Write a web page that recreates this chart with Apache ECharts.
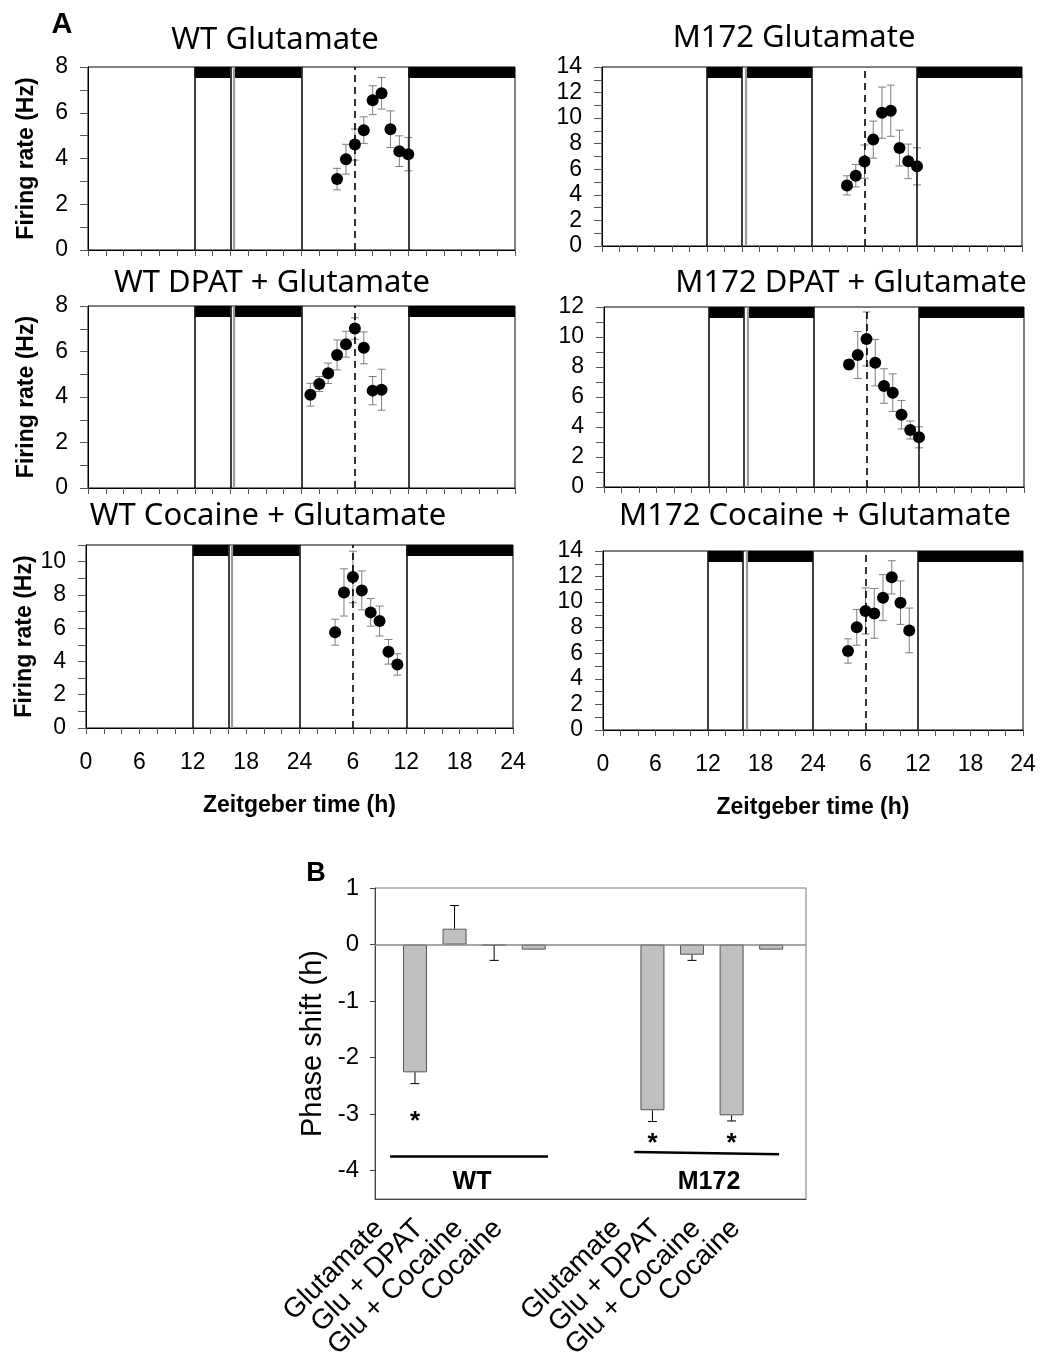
<!DOCTYPE html>
<html>
<head>
<meta charset="utf-8">
<title>Firing rate and phase shift</title>
<script src="https://cdn.jsdelivr.net/npm/echarts@6/dist/echarts.min.js"></script>
<style>
  html, body { margin: 0; padding: 0; background: #fff; }
  #chart { width: 1047px; height: 1353px; }
</style>
</head>
<body>
<div id="chart"></div>
<script>
// ---------- A: firing rate, ZT on a 48 h double plot (mean, SEM) ----------
const wtGluX = [28, 29, 30, 31, 32, 33, 34, 35, 36];
const wtGluY = [3.10, 3.97, 4.61, 5.24, 6.55, 6.85, 5.28, 4.32, 4.19];
const wtGluErr = [0.47, 0.65, 0.68, 0.58, 0.63, 0.69, 0.80, 0.67, 0.73];

const m172GluX = [28, 29, 30, 31, 32, 33, 34, 35, 36];
const m172GluY = [4.74, 5.50, 6.60, 8.32, 10.43, 10.58, 7.66, 6.62, 6.23];
const m172GluErr = [0.75, 0.88, 1.30, 1.45, 2.00, 2.00, 1.40, 1.35, 1.45];

const wtDpatX = [25, 26, 27, 28, 29, 30, 31, 32, 33];
const wtDpatY = [4.10, 4.57, 5.04, 5.85, 6.32, 7.01, 6.16, 4.28, 4.32];
const wtDpatErr = [0.50, 0.33, 0.45, 0.66, 0.57, 0.47, 0.70, 0.62, 0.90];

const m172DpatX = [28, 29, 30, 31, 32, 33, 34, 35, 36];
const m172DpatY = [8.16, 8.80, 9.87, 8.29, 6.73, 6.29, 4.82, 3.80, 3.31];
const m172DpatErr = [0.30, 1.57, 1.80, 1.55, 1.15, 1.25, 0.95, 0.60, 0.70];

const wtCocX = [28, 29, 30, 31, 32, 33, 34, 35];
const wtCocY = [5.76, 8.15, 9.08, 8.27, 6.95, 6.43, 4.58, 3.82];
const wtCocErr = [0.78, 1.42, 1.55, 1.17, 0.83, 0.90, 0.74, 0.64];

const m172CocX = [28, 29, 30, 31, 32, 33, 34, 35];
const m172CocY = [6.18, 8.03, 9.31, 9.12, 10.35, 11.94, 9.96, 7.79];
const m172CocErr = [0.95, 1.40, 1.80, 1.95, 1.80, 1.30, 1.70, 1.75];

const panelTitles = ['WT Glutamate', 'M172 Glutamate', 'WT DPAT + Glutamate',
  'M172 DPAT + Glutamate', 'WT Cocaine + Glutamate', 'M172 Cocaine + Glutamate'];
const panelYMax = [8, 14, 8, 12, 11, 14];

// dark phases (black bar on top) and boundary lines, in ZT hours
const darkBars = [[12, 16], [16.4, 24], [36, 48]];
const solidLines = [12, 16, 24, 36];
const grayLine = 16.4;
const dashedLine = 30;

const xTickValues = [0, 2, 4, 6, 8, 10, 12, 14, 16, 18, 20, 22, 24, 26, 28, 30, 32, 34, 36, 38, 40, 42, 44, 46, 48];
const xLabelValues = [0, 6, 12, 18, 24, 30, 36, 42, 48];

// ---------- B: phase shift (h) ----------
const treatments = ['Glutamate', 'Glu + DPAT', 'Glu + Cocaine', 'Cocaine'];
const wtSlots = [0, 1, 2, 3];
const m172Slots = [6, 7, 8, 9];
const wtShift = [-2.26, 0.28, -0.02, -0.09];
const wtShiftErr = [0.20, 0.41, 0.26, 0];
const m172Shift = [-2.93, -0.18, -3.02, -0.09];
const m172ShiftErr = [0.20, 0.10, 0.10, 0];
const phaseTicks = [-4, -3, -2, -1, 0, 1];

const ARIAL = '"Liberation Sans", Arial, sans-serif';
const TITLE_FONT = '"Noto Sans", "Open Sans", sans-serif';

const chart = echarts.init(document.getElementById('chart'));

const grids = [
  { left: 88, top: 67, width: 427, height: 183 },
  { left: 602, top: 67, width: 420, height: 179 },
  { left: 88, top: 306, width: 427, height: 182 },
  { left: 604, top: 307, width: 420, height: 180 },
  { left: 86, top: 545, width: 427, height: 183 },
  { left: 603, top: 551, width: 420, height: 179 },
  { left: 375, top: 888, width: 431, height: 311 }
].map((g, i) => Object.assign({
  show: true,
  outerBoundsMode: 'none',
  containLabel: false,
  borderColor: i < 6 ? '#000' : '#777',
  borderWidth: 1,
  backgroundColor: 'transparent'
}, g));

const panelData = [
  [wtGluX, wtGluY, wtGluErr],
  [m172GluX, m172GluY, m172GluErr],
  [wtDpatX, wtDpatY, wtDpatErr],
  [m172DpatX, m172DpatY, m172DpatErr],
  [wtCocX, wtCocY, wtCocErr],
  [m172CocX, m172CocY, m172CocErr]
];

const xAxes = [];
const yAxes = [];
const series = [];

panelData.forEach((d, i) => {
  const bottom = i >= 4;
  const left = i % 2 === 0;
  const yMax = panelYMax[i];
  const yTicks = [];
  const yLabels = [];
  for (let v = 0; v <= yMax; v++) {
    yTicks.push(v);
    if (v % 2 === 0) yLabels.push(v);
  }
  xAxes.push({
    type: 'value', gridIndex: i, min: 0, max: 48,
    axisLine: { onZero: false, lineStyle: { color: '#000', width: 1 } },
    axisTick: { customValues: xTickValues, length: 6, lineStyle: { color: '#555' } },
    axisLabel: {
      show: bottom, customValues: xLabelValues, margin: 23,
      formatter: v => (v > 24 ? v - 24 : v),
      color: '#000', fontSize: 23, fontFamily: ARIAL
    },
    splitLine: { show: false },
    name: bottom ? 'Zeitgeber time (h)' : '',
    nameLocation: 'middle', nameGap: 66,
    nameTextStyle: { color: '#000', fontSize: 23, fontWeight: 'bold', fontFamily: ARIAL }
  });
  yAxes.push({
    type: 'value', gridIndex: i, min: 0, max: yMax,
    axisLine: { onZero: false, lineStyle: { color: '#000', width: 1 } },
    axisTick: { customValues: yTicks, length: 8, lineStyle: { color: '#555' } },
    axisLabel: {
      customValues: yLabels, margin: 20,
      color: '#000', fontSize: 23, fontFamily: ARIAL
    },
    splitLine: { show: false },
    name: left ? 'Firing rate (Hz)' : '',
    nameLocation: 'middle', nameGap: 50,
    nameTextStyle: { color: '#000', fontSize: 23, fontWeight: 'bold', fontFamily: ARIAL }
  });

  // black bars for the dark phases + boundary lines
  series.push({
    type: 'custom', xAxisIndex: i, yAxisIndex: i, silent: true,
    data: darkBars.map(b => [b[0], b[1], yMax]),
    encode: { x: [0, 1], y: 2 },
    renderItem: (params, api) => {
      const p0 = api.coord([api.value(0), api.value(2)]);
      const p1 = api.coord([api.value(1), api.value(2)]);
      return {
        type: 'rect',
        shape: { x: p0[0], y: p0[1], width: p1[0] - p0[0], height: 11 },
        style: { fill: '#000' }
      };
    },
    markLine: {
      silent: true, symbol: ['none', 'none'], label: { show: false },
      animation: false,
      data: solidLines.map(x => ({ xAxis: x, lineStyle: { color: '#111', width: 1.6, type: 'solid' } }))
        .concat([
          { xAxis: grayLine, lineStyle: { color: '#9a9a9a', width: 2.2, type: 'solid' } },
          { xAxis: dashedLine, lineStyle: { color: '#000', width: 1.6, type: [7, 5] } }
        ])
    },
    z: 2
  });

  // error bars (SEM)
  series.push({
    type: 'custom', xAxisIndex: i, yAxisIndex: i, silent: true,
    data: d[0].map((x, k) => [x, d[1][k] - d[2][k], d[1][k] + d[2][k]]),
    encode: { x: 0, y: [1, 2] },
    renderItem: (params, api) => {
      const lo = api.coord([api.value(0), api.value(1)]);
      const hi = api.coord([api.value(0), api.value(2)]);
      const st = { stroke: '#7f7f7f', lineWidth: 1 };
      const c = 4;
      return {
        type: 'group', children: [
          { type: 'line', shape: { x1: lo[0], y1: lo[1], x2: hi[0], y2: hi[1] }, style: st },
          { type: 'line', shape: { x1: lo[0] - c, y1: lo[1], x2: lo[0] + c, y2: lo[1] }, style: st },
          { type: 'line', shape: { x1: hi[0] - c, y1: hi[1], x2: hi[0] + c, y2: hi[1] }, style: st }
        ]
      };
    },
    z: 3
  });

  // mean firing rate
  series.push({
    type: 'scatter', xAxisIndex: i, yAxisIndex: i,
    data: d[0].map((x, k) => [x, d[1][k]]),
    symbol: 'circle', symbolSize: 12,
    itemStyle: { color: '#000', opacity: 1 },
    z: 4
  });
});

// ---------- B axes ----------
const bSlots = wtSlots.concat(m172Slots);
const bValues = wtShift.concat(m172Shift);
const bErr = wtShiftErr.concat(m172ShiftErr);
const slotName = {};
wtSlots.forEach((s, k) => { slotName[s] = treatments[k]; });
m172Slots.forEach((s, k) => { slotName[s] = treatments[k]; });

xAxes.push({
  type: 'value', gridIndex: 6, min: -1.01, max: 9.88,
  axisLine: { onZero: false, lineStyle: { color: '#444', width: 1 } },
  axisTick: { show: false },
  splitLine: { show: false },
  axisLabel: {
    customValues: bSlots, rotate: 45, margin: -10,
    padding: [0, 50, 0, 0],
    formatter: v => slotName[v],
    color: '#000', fontSize: 28, fontFamily: ARIAL
  }
});
yAxes.push({
  type: 'value', gridIndex: 6, min: -4.5, max: 1,
  axisLine: { onZero: false, lineStyle: { color: '#444', width: 1 } },
  axisTick: { customValues: phaseTicks, length: 5, lineStyle: { color: '#444' } },
  axisLabel: { customValues: phaseTicks, margin: 16, color: '#000', fontSize: 24, fontFamily: ARIAL },
  splitLine: { show: false },
  name: 'Phase shift (h)', nameLocation: 'middle', nameGap: 48,
  nameTextStyle: { color: '#000', fontSize: 29, fontFamily: ARIAL }
});

series.push({
  type: 'bar', xAxisIndex: 6, yAxisIndex: 6,
  data: bSlots.map((s, k) => [s, bValues[k]]),
  barWidth: 24,
  itemStyle: { color: '#c0c0c0', borderColor: '#555', borderWidth: 1 },
  markLine: {
    silent: true, symbol: ['none', 'none'], label: { show: false }, animation: false,
    data: [
      { yAxis: 0, lineStyle: { color: '#888', width: 1.5, type: 'solid' } },
      [{ coord: [-0.63, -3.74] }, { coord: [3.36, -3.74] }],
      [{ coord: [5.54, -3.67] }, { coord: [9.2, -3.71] }]
    ],
    lineStyle: { color: '#000', width: 2.5, type: 'solid' }
  },
  markPoint: {
    silent: true, symbol: 'circle', symbolSize: 0, animation: false,
    label: { show: true, position: 'inside', color: '#000', fontFamily: ARIAL, fontWeight: 'bold' },
    data: [
      { coord: [0, -3.13], value: '*', label: { formatter: '*', fontSize: 26 } },
      { coord: [6, -3.52], value: '*', label: { formatter: '*', fontSize: 26 } },
      { coord: [8, -3.52], value: '*', label: { formatter: '*', fontSize: 26 } },
      { coord: [1.44, -4.2], value: 'WT', label: { formatter: 'WT', fontSize: 25 } },
      { coord: [7.43, -4.2], value: 'M172', label: { formatter: 'M172', fontSize: 25 } }
    ]
  },
  z: 2
});

// one-sided error bars pointing away from zero
series.push({
  type: 'custom', xAxisIndex: 6, yAxisIndex: 6, silent: true,
  data: bSlots.map((s, k) => [s, bValues[k], bValues[k] + (bValues[k] < 0 ? -bErr[k] : bErr[k])]),
  encode: { x: 0, y: [1, 2] },
  renderItem: (params, api) => {
    if (api.value(1) === api.value(2)) return null;
    const a = api.coord([api.value(0), api.value(1)]);
    const b = api.coord([api.value(0), api.value(2)]);
    const st = { stroke: '#000', lineWidth: 1 };
    return {
      type: 'group', children: [
        { type: 'line', shape: { x1: a[0], y1: a[1], x2: b[0], y2: b[1] }, style: st },
        { type: 'line', shape: { x1: b[0] - 4.5, y1: b[1], x2: b[0] + 4.5, y2: b[1] }, style: st }
      ]
    };
  },
  z: 3
});

// ---------- titles and panel letters ----------
const titlePos = [[275, 40], [794, 38], [272, 283], [851, 283], [268, 516], [815, 516]];
const graphics = panelTitles.map((t, i) => ({
  type: 'text', x: titlePos[i][0], y: titlePos[i][1], silent: true,
  style: { text: t, textAlign: 'center', textVerticalAlign: 'middle', fill: '#000',
    font: '31px ' + TITLE_FONT }
}));
graphics.push({
  type: 'text', x: 62, y: 25, silent: true,
  style: { text: 'A', textAlign: 'center', textVerticalAlign: 'middle', fill: '#000',
    font: 'bold 29px ' + ARIAL }
});
graphics.push({
  type: 'text', x: 316, y: 874, silent: true,
  style: { text: 'B', textAlign: 'center', textVerticalAlign: 'middle', fill: '#000',
    font: 'bold 27px ' + ARIAL }
});

chart.setOption({
  animation: false,
  backgroundColor: '#fff',
  grid: grids,
  xAxis: xAxes,
  yAxis: yAxes,
  series: series,
  graphic: graphics
});

window.addEventListener('resize', function () {
  chart.resize();
});
</script>
</body>
</html>
